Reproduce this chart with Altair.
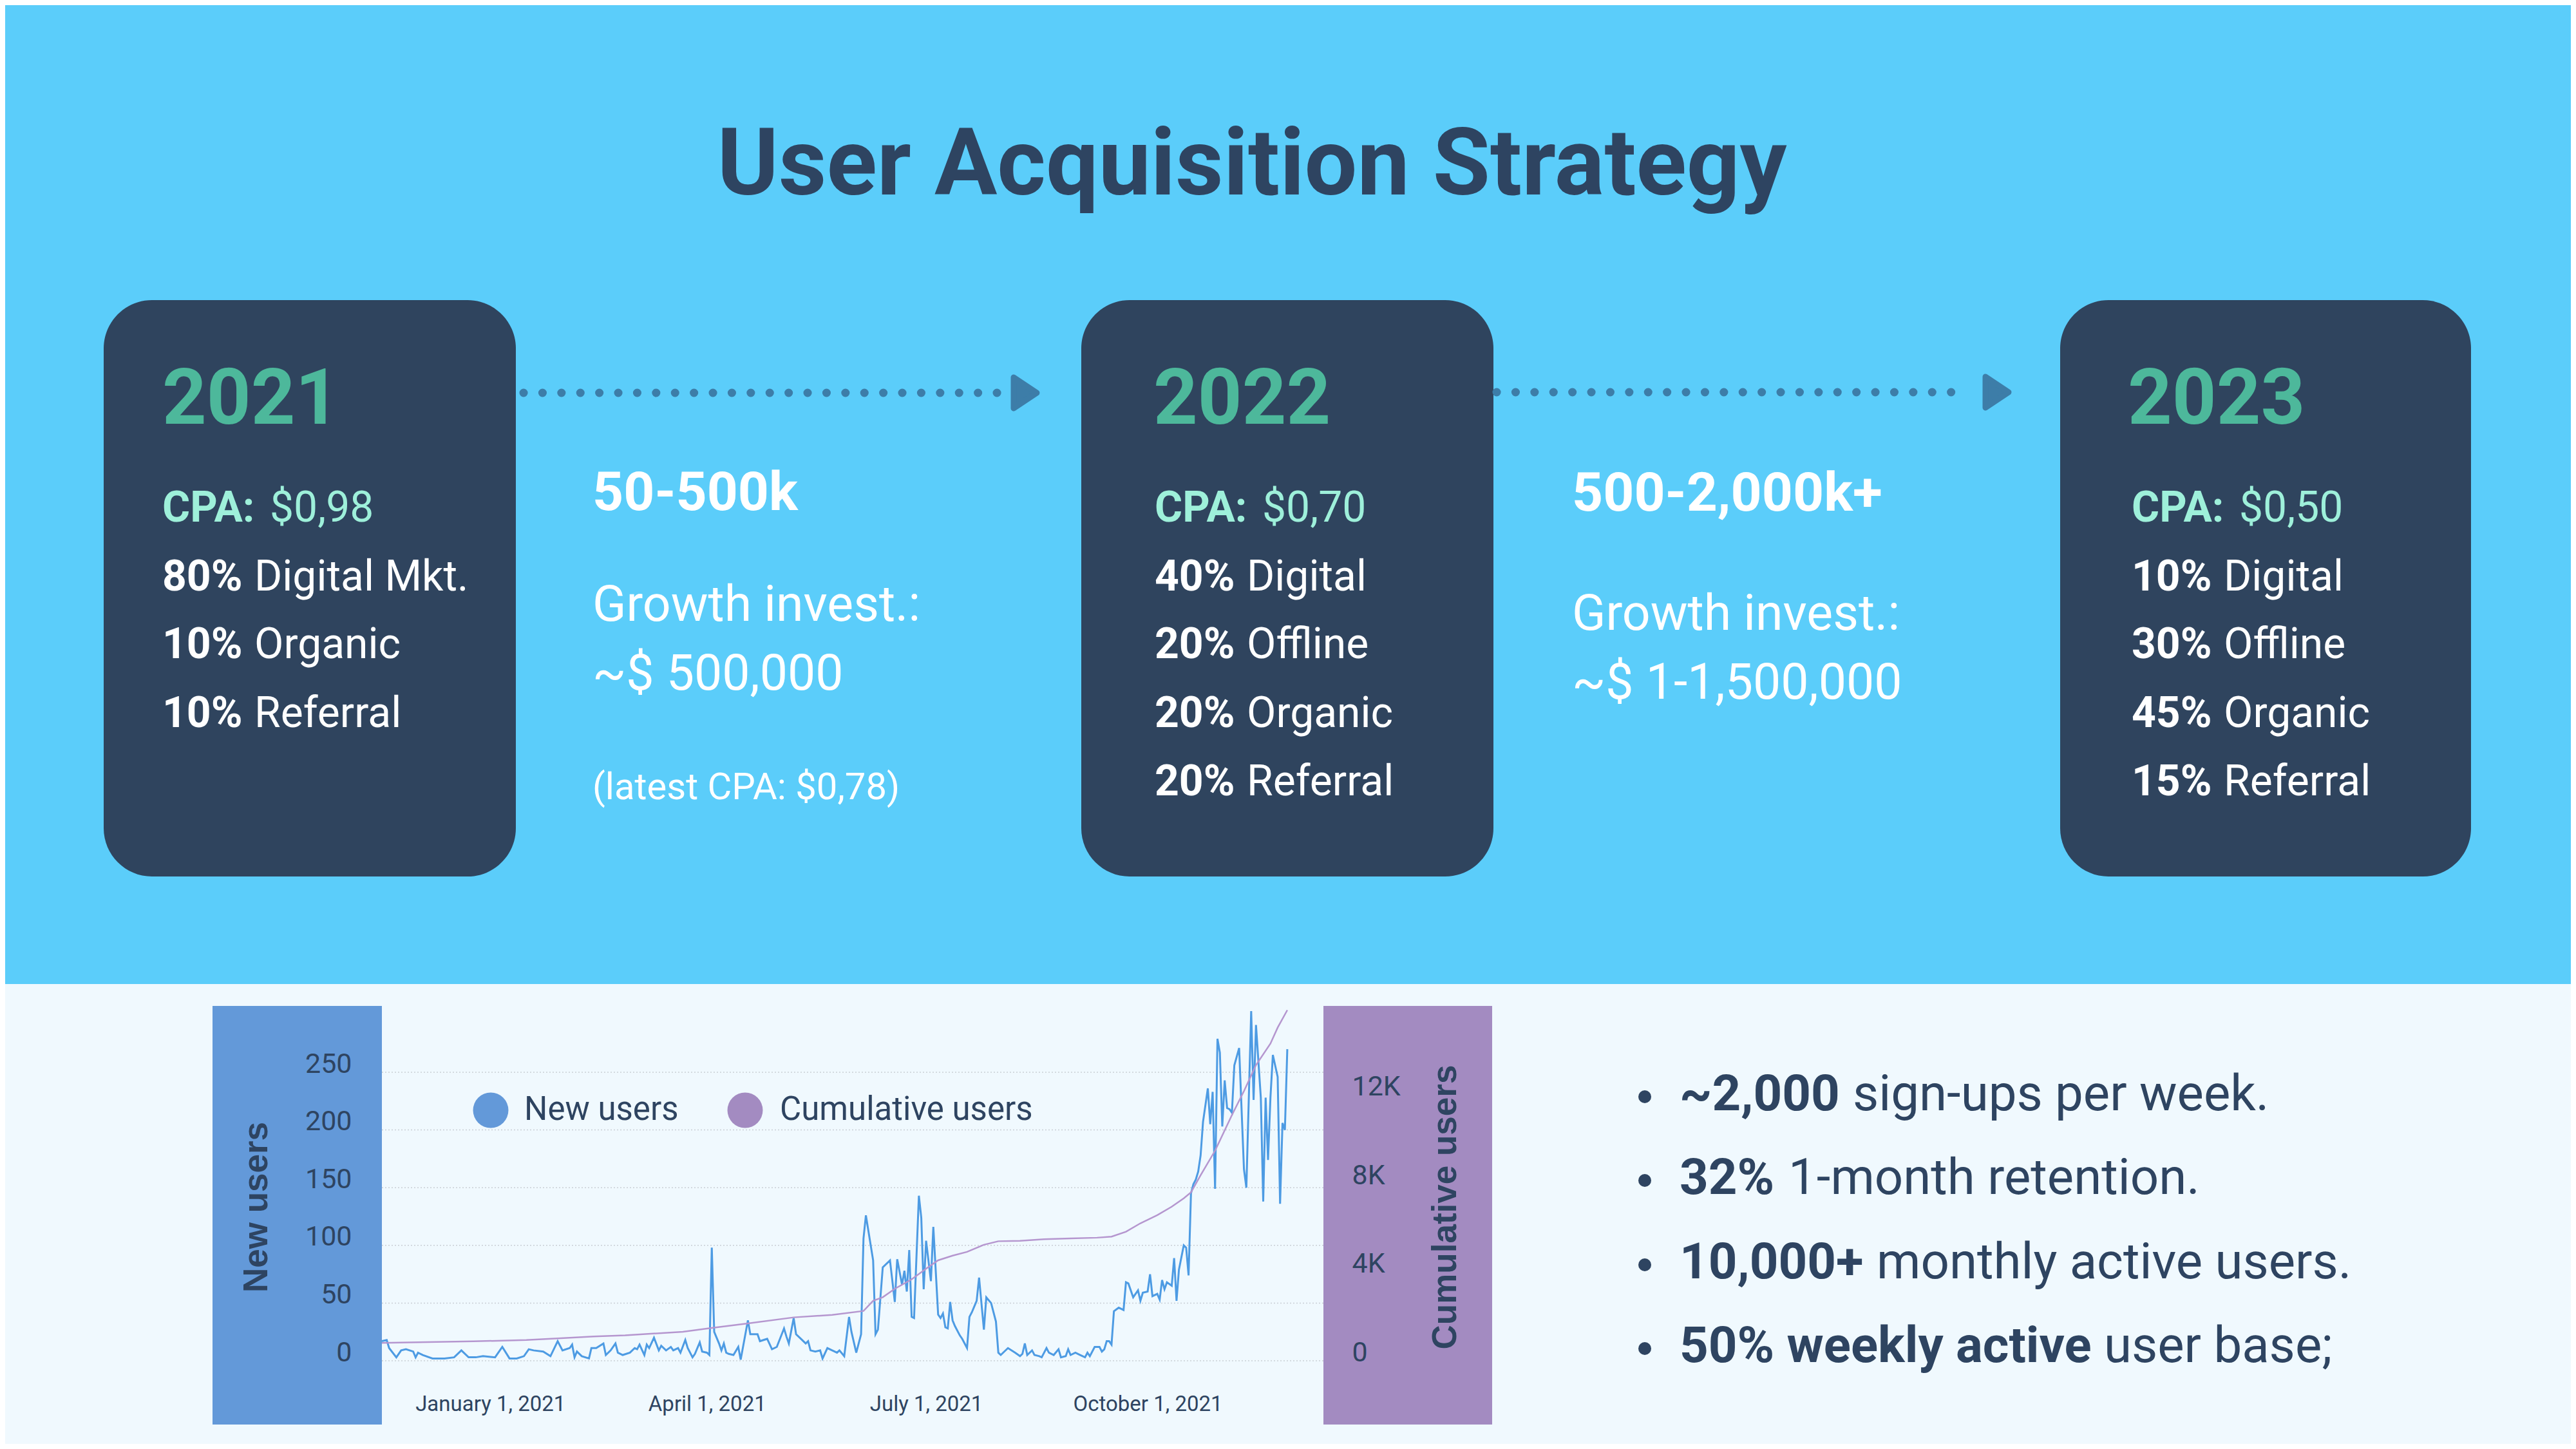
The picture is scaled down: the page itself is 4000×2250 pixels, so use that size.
import altair as alt
import pandas as pd

# ---------------- content ----------------
title_text = "User Acquisition Strategy"
years = ["2021", "2022", "2023"]
cpa_label = "CPA:"
cpa_values = ["$0,98", "$0,70", "$0,50"]
mix_shares = [["80%", "10%", "10%"],
              ["40%", "20%", "20%", "20%"],
              ["10%", "30%", "45%", "15%"]]
mix_channels = [["Digital Mkt.", "Organic", "Referral"],
                ["Digital", "Offline", "Organic", "Referral"],
                ["Digital", "Offline", "Organic", "Referral"]]
reach = ["50-500k", "500-2,000k+"]
invest_label = "Growth invest.:"
invest = ["~$ 500,000", "~$ 1-1,500,000"]
latest_cpa = "(latest CPA: $0,78)"
kpi_bold = ["~2,000", "32%", "10,000+", "50% weekly active"]
kpi_rest = ["sign-ups per week.", "1-month retention.", "monthly active users.", "user base;"]
series_names = ["New users", "Cumulative users"]

# daily new users, days counted from 2021-01-01
new_days = [-45, -43, -42, -39, -37, -35, -32, -31, -30, -28, -24, -19, -15, -12, -9, -6, -3,
            2, 5, 8, 11, 14, 16, 18, 22, 25, 28, 30, 33, 34, 35, 36, 38, 41, 42, 44, 47, 48, 50, 52,
            53, 55, 58, 60, 61, 62, 64, 65, 66, 68, 70, 71, 73, 75, 76, 78, 79, 81, 82, 84, 85, 87,
            88, 90, 91, 92, 93, 95, 96, 97, 98, 99, 101, 103, 104, 107, 108, 110, 111, 112, 115,
            117, 119, 122, 123, 124, 126, 127, 129, 131, 132, 133, 135, 137, 138, 140, 142, 144,
            145, 147, 149, 150, 152, 154, 155, 156, 159, 160, 161, 163, 166, 168, 169, 171, 172,
            173, 174, 175, 176, 178, 179, 180, 181, 183, 184, 186, 187, 188, 189, 190, 191, 192,
            193, 195, 196, 198, 199, 200, 202, 203, 205, 206, 208, 210, 211, 212, 215, 218, 220,
            221, 222, 223, 225, 226, 228, 229, 231, 232, 234, 236, 237, 239, 240, 241, 243, 245,
            247, 248, 249, 251, 253, 254, 255, 256, 257, 258, 259, 261, 263, 264, 265, 267, 269,
            270, 271, 273, 274, 275, 277, 278, 279, 280, 281, 283, 284, 285, 286, 288, 289, 290,
            291, 292, 293, 294, 295, 296, 298, 299, 300, 301, 302, 303, 304, 305, 306, 307, 308,
            309, 311, 313, 314, 316, 317, 318, 320, 321, 322, 323, 324, 325, 327, 328, 329, 330, 331]
new_users = [17, 18, 11, 3, 9, 10, 8, 3, 7, 5, 2, 2, 3, 9, 3, 3, 4,
             3, 12, 2, 2, 4, 10, 9, 8, 4, 17, 9, 11, 14, 3, 8, 4, 2, 11, 11, 15, 5, 9, 15,
             7, 5, 7, 11, 10, 14, 5, 14, 11, 20, 9, 13, 9, 12, 9, 11, 7, 18, 11, 3, 6, 16,
             8, 7, 5, 98, 25, 15, 9, 15, 7, 6, 5, 12, 1, 35, 23, 23, 23, 17, 19,
             10, 12, 28, 21, 15, 37, 23, 19, 15, 17, 9, 8, 9, 2, 11, 9, 7,
             9, 4, 38, 25, 7, 23, 106, 126, 87, 23, 27, 81, 87, 51, 88, 66, 78,
             60, 96, 38, 37, 143, 124, 62, 104, 69, 116, 40, 37, 41, 29, 28, 51, 35,
             30, 22, 19, 11, 38, 42, 52, 72, 27, 55, 50, 34, 7, 5, 11, 7, 4,
             6, 15, 5, 9, 5, 4, 3, 11, 7, 5, 10, 3, 4, 10, 5, 7, 5,
             3, 7, 4, 12, 12, 8, 10, 17, 17, 14, 43, 46, 44, 68, 67, 55, 61,
             52, 59, 60, 75, 56, 58, 53, 70, 62, 68, 65, 89, 52, 79, 100, 98, 74,
             145, 153, 157, 164, 178, 207, 236, 205, 233, 149, 279, 267, 203, 243, 219, 218, 215,
             256, 271, 166, 150, 303, 226, 291, 228, 138, 228, 174, 228, 265, 246, 136, 206, 200, 270]

cum_days = [-45, -7, 15, 28, 43, 56, 80, 91, 107, 126, 142, 155, 159, 163, 168, 175, 181, 186,
            192, 198, 205, 211, 220, 230, 241, 252, 258, 264, 270, 277, 283, 288, 291, 295, 301,
            308, 313, 318, 324, 327, 331]
cum_users = [806, 880, 935, 1010, 1100, 1150, 1310, 1470, 1690, 1960, 2070, 2250, 2710, 2870,
             3250, 3680, 4160, 4540, 4750, 4920, 5240, 5400, 5420, 5490, 5530, 5560, 5610, 5830,
             6210, 6580, 6960, 7340, 7610, 8380, 9490, 11100, 12180, 13360, 14330, 15050, 15840]

# ---------------- styling ----------------
TOP_BG = "#5BCDFA"
BOTTOM_BG = "#F0F9FE"
BOX = "#2F445E"
NAVY = "#2E4461"
TEAL = "#4DB89B"
MINT = "#9EF0DA"
ARROW = "#3D7DA8"
BLUE_PANEL = "#6399D9"
PURPLE_PANEL = "#A38BC1"
BLUE_LINE = "#4D9BE3"
PURPLE_LINE = "#B596CF"
GRID = "#C9CFD5"

W, H = 3984, 2234   # chart size; the page adds an 8px margin
M = 8


def lx():
    return alt.Scale(domain=[M, W + M], range=[0, W], nice=False, zero=False)


def ly():
    return alt.Scale(domain=[M, H + M], range=[0, H], nice=False, zero=False)


def texts(rows, size, color, weight="normal", align="left", font="Roboto"):
    df = pd.DataFrame(rows, columns=["x", "y", "t"])
    return alt.Chart(df).mark_text(
        align=align, baseline="alphabetic", font=font, fontSize=size,
        fontWeight=weight, color=color
    ).encode(x=alt.X("x:Q", scale=lx(), axis=None),
             y=alt.Y("y:Q", scale=ly(), axis=None),
             text="t:N")


def rects(rows, color, radius=0):
    df = pd.DataFrame(rows, columns=["x", "x2", "y", "y2"])
    return alt.Chart(df).mark_rect(color=color, cornerRadius=radius).encode(
        x=alt.X("x:Q", scale=lx(), axis=None), x2="x2:Q",
        y=alt.Y("y:Q", scale=ly(), axis=None), y2="y2:Q")


def dots(rows, size):
    df = pd.DataFrame(rows, columns=["x", "y", "c"])
    return alt.Chart(df).mark_circle(size=size, opacity=1).encode(
        x=alt.X("x:Q", scale=lx(), axis=None),
        y=alt.Y("y:Q", scale=ly(), axis=None),
        color=alt.Color("c:N", scale=None, legend=None))


# ---------------- top section ----------------
box_x = [(161, 801), (1679, 2319), (3199, 3837)]
year_x = [252, 1791, 3304]
line_x = [252, 1793, 3310]
line_y = [917, 1022, 1129, 1235]

layers = [rects([(0, 4000, 1528, 2250)], BOTTOM_BG),
          rects([(a, b, 466, 1361) for a, b in box_x], BOX, radius=75)]

# dotted arrows
arrow_df = pd.DataFrame({"x": [813, 2324], "x2": [1551, 3053], "y": [610, 609]})
layers.append(alt.Chart(arrow_df).mark_rule(
    color=ARROW, strokeWidth=13, strokeCap="round", strokeDash=[0.1, 29.3]
).encode(x=alt.X("x:Q", scale=lx(), axis=None), x2="x2:Q",
         y=alt.Y("y:Q", scale=ly(), axis=None)))
head_df = pd.DataFrame({"x": [1592, 3101], "y": [610, 609]})
layers.append(alt.Chart(head_df).mark_point(
    shape="M-0.75,-1L0.75,0L-0.75,1Z", size=2300, filled=True, opacity=1,
    fill=ARROW, stroke=ARROW, strokeWidth=9, strokeJoin="round"
).encode(x=alt.X("x:Q", scale=lx(), axis=None), y=alt.Y("y:Q", scale=ly(), axis=None)))

layers.append(texts([(1944, 302, title_text)], 145, NAVY, "bold", align="center"))
layers.append(texts([(x, 658, t) for x, t in zip(year_x, years)], 120, TEAL, "bold"))
layers.append(texts([(x, 810, cpa_label) for x in line_x], 66, MINT, "bold"))
layers.append(texts([(x + 167, 810, v) for x, v in zip(line_x, cpa_values)], 66, MINT))
bold_rows, reg_rows = [], []
for x, shares, chans in zip(line_x, mix_shares, mix_channels):
    for y, s, c in zip(line_y, shares, chans):
        bold_rows.append((x, y, s))
        reg_rows.append((x + 143, y, c))
layers.append(texts(bold_rows, 66, "white", "bold"))
layers.append(texts(reg_rows, 66, "white"))

layers.append(texts([(920, 792, reach[0]), (2441, 793, reach[1])], 84, "white", "bold"))
layers.append(texts([(920, 964, invest_label), (2441, 978, invest_label),
                     (920, 1071, invest[0]), (2441, 1085, invest[1])], 77, "white"))
layers.append(texts([(920, 1241, latest_cpa)], 58, "white"))

# ---------------- bottom section ----------------
layers.append(rects([(330, 593, 1562, 2212)], BLUE_PANEL))
layers.append(rects([(2055, 2317, 1562, 2212)], PURPLE_PANEL))

# chart geometry (chart pixels)
PX0, PX1 = 585, 2047
PY0 = 2105
x_time = alt.Scale(domain=[alt.DateTime(year=2020, month=11, date=17),
                           alt.DateTime(year=2021, month=12, date=13)],
                   range=[PX0, PX1])
y_new = alt.Scale(domain=[0, 300], range=[PY0, PY0 - 6 * 89.6], nice=False, zero=True)
y_cum = alt.Scale(domain=[0, 16000], range=[PY0, PY0 - 4 * 137.5], nice=False, zero=True)

new_ticks = [0, 50, 100, 150, 200, 250]
grid_df = pd.DataFrame({"v": new_ticks})
layers.append(alt.Chart(grid_df).mark_rule(color=GRID, strokeWidth=1.5, strokeDash=[2, 3]).encode(
    y=alt.Y("v:Q", scale=y_new, axis=None), x=alt.value(PX0), x2=alt.value(PX1)))

start = pd.Timestamp("2021-01-01")
new_df = pd.DataFrame({"date": start + pd.to_timedelta(new_days, unit="D"), "users": new_users})
cum_df = pd.DataFrame({"date": start + pd.to_timedelta(cum_days, unit="D"), "users": cum_users})

lab = dict(labelFont="Roboto", labelColor=NAVY, ticks=False, tickSize=0, domain=False,
           grid=False, zindex=1, labelBaseline="alphabetic", labelLimit=0)
ttl = dict(titleFont="Liberation Sans", titleFontSize=53, titleFontWeight="bold",
           titleColor=NAVY, titleAngle=270, titleAlign="center", titleBaseline="middle",
           titleY=1866)

layers.append(alt.Chart(new_df).mark_line(color=BLUE_LINE, strokeWidth=3).encode(
    x=alt.X("date:T", scale=x_time,
            axis=alt.Axis(orient="bottom", offset=-(H - PY0), labelFontSize=33,
                          labelPadding=77, format="%B %-d, %Y", labelFlush=False,
                          labelOverlap=False, title=None,
                          values=[alt.DateTime(year=2021, month=m, date=1) for m in (1, 4, 7, 10)],
                          **lab)),
    y=alt.Y("users:Q", scale=y_new,
            axis=alt.Axis(orient="left", offset=-PX0, values=new_ticks, labelFontSize=43,
                          labelPadding=47, title=series_names[0], titleX=390 - PX0,
                          **lab, **ttl))))

layers.append(alt.Chart(cum_df).mark_line(color=PURPLE_LINE, strokeWidth=2.5).encode(
    x=alt.X("date:T", scale=x_time, axis=None),
    y=alt.Y("users:Q", scale=y_cum,
            axis=alt.Axis(orient="right", offset=-(W - PX1), values=[0, 4000, 8000, 12000],
                          labelExpr="datum.value == 0 ? '0' : format(datum.value / 1000, 'd') + 'K'",
                          labelFontSize=43, labelPadding=44, title=series_names[1],
                          titleX=2236 - PX1, **lab, **ttl))))

# legend
layers.append(dots([(762, 1724, BLUE_PANEL), (1157, 1724, PURPLE_PANEL)], 3019))
layers.append(texts([(814, 1739, series_names[0]), (1211, 1739, series_names[1])], 51, NAVY))

# KPI bullets
kpi_y = [1724, 1854, 1985, 2115]
kpi_rest_x = [2877, 2777, 2914, 3267]
layers.append(dots([(2554, y - 21, NAVY) for y in kpi_y], 400))
layers.append(texts([(2608, y, t) for y, t in zip(kpi_y, kpi_bold)], 78, NAVY, "bold"))
layers.append(texts([(x, y, t) for x, y, t in zip(kpi_rest_x, kpi_y, kpi_rest)], 78, NAVY))

chart = alt.layer(*layers).resolve_scale(
    x="independent", y="independent", color="independent"
).properties(
    width=W, height=H, padding=0, background=TOP_BG,
    autosize=alt.AutoSizeParams(type="none")
).configure_view(stroke=None)

chart.save("out.html", embed_options={"renderer": "svg", "actions": False})
